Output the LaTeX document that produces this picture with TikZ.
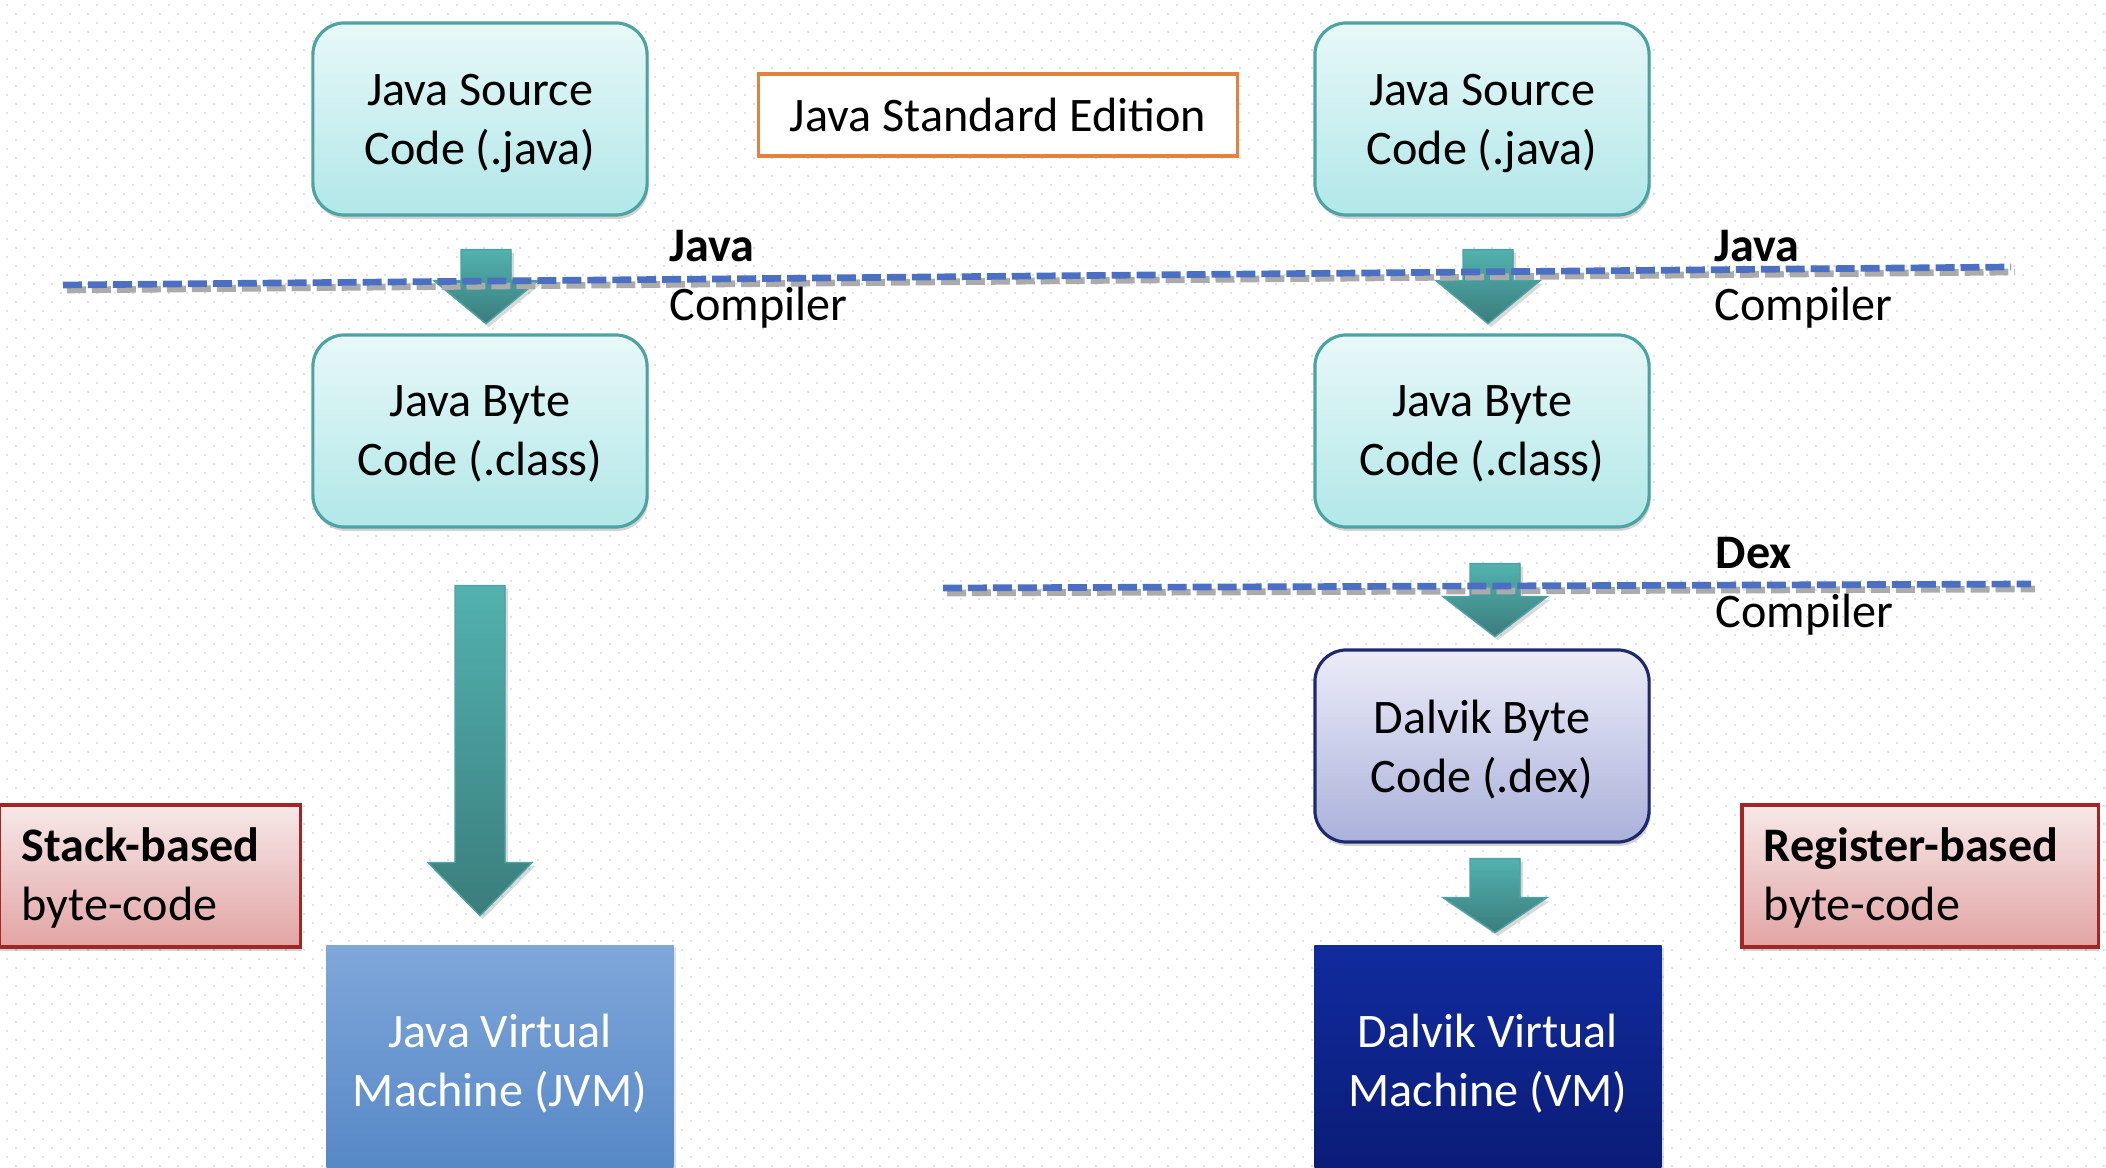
\documentclass[tikz,border=0pt]{standalone}
\usepackage{fontspec}
\setmainfont{Carlito}
\usetikzlibrary{shadows}

\definecolor{dotcol}{HTML}{DDE2EF}
\definecolor{tealedge}{HTML}{4BA3A3}
\definecolor{srctop}{HTML}{E8F8F8}
\definecolor{srcbot}{HTML}{B1E7E8}
\definecolor{dextop}{HTML}{ECECF8}
\definecolor{dexbot}{HTML}{AAB1DA}
\definecolor{dexedge}{HTML}{1F2A6E}
\definecolor{jvmtop}{HTML}{7FA7DA}
\definecolor{jvmbot}{HTML}{5587C6}
\definecolor{dvmtop}{HTML}{112B9E}
\definecolor{dvmbot}{HTML}{0B1C76}
\definecolor{notetop}{HTML}{F7E8E8}
\definecolor{notebot}{HTML}{E2A4A4}
\definecolor{noteedge}{HTML}{A32626}
\definecolor{edition}{HTML}{E4813F}
\definecolor{arrowtop}{HTML}{52B2AE}
\definecolor{arrowbot}{HTML}{3A7D7D}
\definecolor{cutblue}{HTML}{4A6FC3}
\definecolor{cutgrey}{HTML}{ABABAB}

% block arrow below a node: anchor, x offset, top, head top, tip
\newcommand{\blockarrow}[5]{%
\fill[arrowfill, shift={(#1)}] (#2-25,#3) -- (#2+25,#3) -- (#2+25,#4) -- (#2+52,#4) -- (#2,#5) -- (#2-52,#4) -- (#2-25,#4) -- cycle;}

\begin{document}
\begin{tikzpicture}[x=0.01cm, y=-0.01cm,
  font=\fontsize{13.7pt}{16.8pt}\selectfont,
  srcbox/.style={draw=tealedge, line width=0.9pt, rounded corners=9pt, top color=srctop, bottom color=srcbot,
    minimum width=3.34cm, minimum height=1.92cm, align=center, text depth=0pt,
    drop shadow={shadow xshift=0.4pt, shadow yshift=-1.1pt, opacity=0.35}},
  dexbox/.style={srcbox, draw=dexedge, top color=dextop, bottom color=dexbot},
  vmbox/.style={minimum width=3.47cm, minimum height=2.29cm, align=center, text=white, text depth=0pt,
    drop shadow={shadow xshift=0.6pt, shadow yshift=-0.6pt, opacity=0.25}},
  notebox/.style={draw=noteedge, line width=0.9pt, top color=notetop, bottom color=notebot,
    minimum height=1.42cm, align=left, inner xsep=0.22cm, text depth=17.9pt,
    drop shadow={shadow xshift=0.3pt, shadow yshift=-1.1pt, opacity=0.35}},
  stagelabel/.style={anchor=west, align=left, inner sep=0pt},
  arrowfill/.style={top color=arrowtop, bottom color=arrowbot, draw=tealedge, line width=0.4pt,
    drop shadow={shadow xshift=0.8pt, shadow yshift=-1pt, opacity=0.3}},
  cutline/.style={draw=cutblue, line width=1.9pt, dash pattern=on 5.4pt off 1.7pt},
  cutshadow/.style={draw=cutgrey, line width=1.9pt, dash pattern=on 5.4pt off 1.7pt}]
\useasboundingbox (0,0) rectangle (2106,1168);

% dotted background
\foreach \y in {4,22,...,1166} {
  \fill[dotcol] \foreach \x in {6,24,...,2106} {(\x,\y) rectangle ++(2,2)};
  \fill[dotcol] \foreach \x in {15,33,...,2106} {(\x,\y+9) rectangle ++(2,2)};
}

% boxes
\node[srcbox] (src1) at (480,119) {Java Source\\Code (.java)};
\node[srcbox] (src2) at (1482,119) {Java Source\\Code (.java)};
\node[draw=edition, line width=0.9pt, fill=white, minimum width=4.79cm, minimum height=0.82cm] (jse) at (998,115) {Java Standard Edition};
\node[srcbox] (cls1) at (480,431) {Java Byte\\Code (.class)};
\node[srcbox] (cls2) at (1482,431) {Java Byte\\Code (.class)};
\node[dexbox] (dex) at (1482,746) {Dalvik Byte\\Code (.dex)};
\node[vmbox, top color=jvmtop, bottom color=jvmbot] (jvm) at (500,1060) {Java Virtual\\Machine (JVM)};
\node[vmbox, top color=dvmtop, bottom color=dvmbot] (dvm) at (1488,1060) {Dalvik Virtual\\Machine (VM)};
\node[notebox, minimum width=3.01cm, text width=2.57cm] (stack) at (150,876) {\textbf{Stack-based}\\byte-code};
\node[notebox, minimum width=3.56cm, text width=3.12cm] (reg) at (1920,876) {\textbf{Register-based}\\byte-code};

% arrows
\blockarrow{src1.south}{6}{33}{64}{107}
\blockarrow{src2.south}{6}{33}{64}{107}
\blockarrow{cls1.south}{0}{57}{334}{387}
\blockarrow{cls2.south}{13}{35}{68}{108}
\blockarrow{dex.south}{13}{15}{54}{89}

% compiler lines
\coordinate (javaL) at (63,285);
\coordinate (javaR) at (2011,267);
\coordinate (dexL) at (943,588);
\coordinate (dexR) at (2031,584);
\draw[cutshadow] ([shift={(4,5)}]javaL) -- ([shift={(4,5)}]javaR);
\draw[cutline] (javaL) -- (javaR);
\draw[cutshadow] ([shift={(4,5)}]dexL) -- ([shift={(4,5)}]dexR);
\draw[cutline] (dexL) -- (dexR);

\node[stagelabel] (jc1) at (669,279) {\textbf{Java}\\Compiler};
\node[stagelabel] (jc2) at (1714,279) {\textbf{Java}\\Compiler};
\node[stagelabel] (dxc) at (1715,586) {\textbf{Dex}\\Compiler};
\end{tikzpicture}
\end{document}
